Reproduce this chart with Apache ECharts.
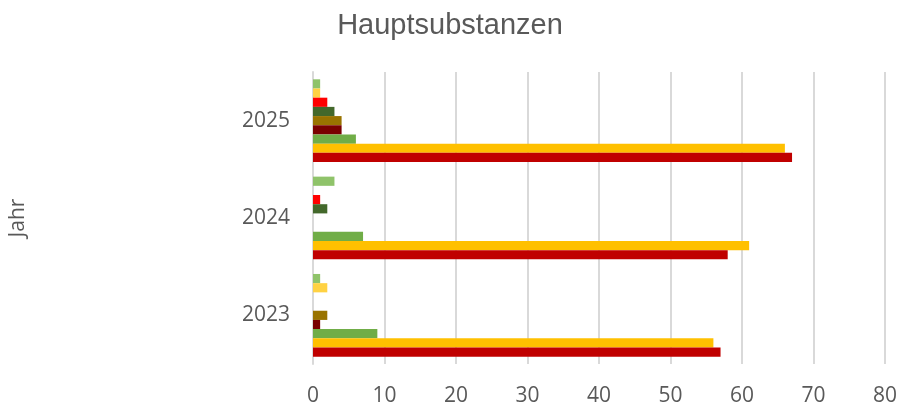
<!DOCTYPE html>
<html>
<head>
<meta charset="utf-8">
<script src="https://cdn.jsdelivr.net/npm/echarts@6/dist/echarts.min.js"></script>
<style>html,body{margin:0;padding:0;background:#fff}#c{width:900px;height:407px}</style>
</head>
<body>
<div id="c"></div>
<script>
const years = ['2023', '2024', '2025'];
const xTicks = [0, 10, 20, 30, 40, 50, 60, 70, 80];
// series listed bottom -> top within each year group
const s1 = [57, 58, 67];
const s2 = [56, 61, 66];
const s3 = [9, 7, 6];
const s4 = [1, 0, 4];
const s5 = [2, 0, 4];
const s6 = [0, 2, 3];
const s7 = [0, 1, 2];
const s8 = [2, 0, 1];
const s9 = [1, 3, 1];
const seriesValues = [s1, s2, s3, s4, s5, s6, s7, s8, s9];
const seriesNames = ['S1', 'S2', 'S3', 'S4', 'S5', 'S6', 'S7', 'S8', 'S9'];
const colors = ['#C00000', '#FFC000', '#70AD47', '#7A0000', '#997300', '#43682B', '#FF0000', '#FFD243', '#8FC36A'];

// ECharts places the first series at the top of each band -> reverse
const order = seriesValues.map((_, i) => i).reverse();

const chart = echarts.init(document.getElementById('c'), null, {renderer: 'canvas'});
chart.setOption({
  animation: false,
  backgroundColor: '#fff',
  title: {
    text: 'Hauptsubstanzen',
    left: 'center', top: 6,
    textStyle: {fontFamily: 'Liberation Sans', fontSize: 29, fontWeight: 'normal', color: '#595959'}
  },
  grid: {left: 313, right: 12, top: 72, bottom: 43, containLabel: false},
  xAxis: {
    type: 'value', min: 0, max: 80, interval: 10,
    axisLine: {show: false}, axisTick: {show: false},
    splitLine: {show: true, lineStyle: {color: '#D9D9D9', width: 2}},
    axisLabel: {
      margin: 22, color: '#595959', fontFamily: 'Open Sans', fontSize: 21,
      formatter: v => xTicks.includes(v) ? String(v) : ''
    }
  },
  yAxis: {
    type: 'category', data: years,
    name: 'Jahr', nameLocation: 'middle', nameGap: 284, nameRotate: 90,
    nameTextStyle: {color: '#595959', fontFamily: 'Open Sans', fontSize: 21},
    axisLine: {show: true, lineStyle: {color: '#D9D9D9', width: 2}},
    axisTick: {show: false},
    axisLabel: {margin: 23, color: '#595959', fontFamily: 'Open Sans', fontSize: 21}
  },
  series: order.map(i => ({
    name: seriesNames[i], type: 'bar', data: seriesValues[i],
    itemStyle: {color: colors[i]},
    barGap: '0%', barCategoryGap: '15%'
  }))
});
</script>
</body>
</html>
